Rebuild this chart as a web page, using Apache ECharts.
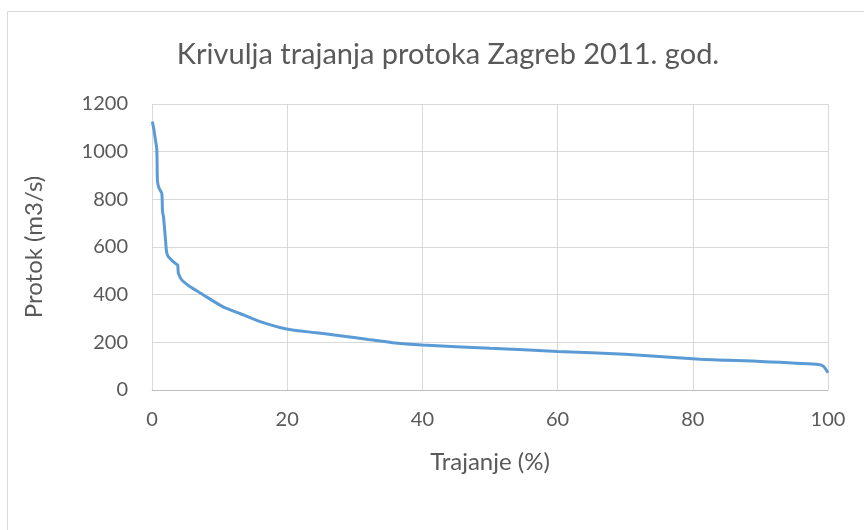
<!DOCTYPE html>
<html>
<head>
<meta charset="utf-8">
<script src="https://cdn.jsdelivr.net/npm/echarts@6/dist/echarts.min.js"></script>
<style>html,body{margin:0;padding:0;background:#fff}#c{width:864px;height:530px}</style>
</head>
<body>
<div id="c"></div>
<script>
const titleText = 'Krivulja trajanja protoka Zagreb 2011. god.';
const xName = 'Trajanje (%)';
const yName = 'Protok (m3/s)';
const duration = [0.05, 0.3, 0.45, 0.7, 0.75, 0.8, 1.0, 1.45, 1.55, 1.7, 2.0, 2.15, 2.4, 2.9, 3.5, 3.8, 3.85, 3.9, 4.4, 5.6, 7.6, 10.5, 13.0, 16.0, 19.9, 24.0, 27.8, 32.0, 36.0, 40.0, 50.0, 60.0, 70.0, 81.1, 90.0, 98.3, 99.3, 100.0];
const flow = [1126, 1090, 1060, 1014, 960, 880, 850, 825, 750, 727, 629, 580, 560, 545, 530, 524, 505, 490, 462, 434, 399, 349, 321, 287, 256, 241, 228, 212, 197, 189, 175, 162, 150, 129, 120, 108, 100, 72];
const xTicks = [0, 100, 20];
const yTicks = [0, 1200, 200];

const chart = echarts.init(document.getElementById('c'));
const font = 'Lato, "Open Sans", sans-serif';
chart.setOption({
  animation: false,
  graphic: [{type:'rect', shape:{x:7.5, y:11.5, width:870, height:540}, style:{fill:'none', stroke:'#d9d9d9', lineWidth:1}}],
  title: {text: titleText, left: 443, top: 35, textAlign: 'center',
    textStyle: {fontFamily: font, fontSize: 29, fontWeight: 'normal', color: '#595959'}},
  grid: {left: 152, top: 104, right: 36, bottom: 140, containLabel: false},
  xAxis: {type: 'value', min: xTicks[0], max: xTicks[1], interval: xTicks[2],
    name: xName, nameLocation: 'middle', nameGap: 60,
    nameTextStyle: {fontFamily: font, fontSize: 24, color: '#595959'},
    axisLine: {show: true, lineStyle: {color: '#bfbfbf', width: 1}},
    axisTick: {show: false},
    axisLabel: {fontFamily: font, fontSize: 20, color: '#595959', margin: 20},
    splitLine: {show: true, lineStyle: {color: '#d9d9d9', width: 1}}},
  yAxis: {type: 'value', min: yTicks[0], max: yTicks[1], interval: yTicks[2],
    name: yName, nameLocation: 'middle', nameGap: 106, nameRotate: 90,
    nameTextStyle: {fontFamily: font, fontSize: 24, color: '#595959'},
    axisLine: {show: false}, axisTick: {show: false},
    axisLabel: {fontFamily: font, fontSize: 20, color: '#595959', margin: 24, formatter: v => String(v)},
    splitLine: {show: true, lineStyle: {color: '#d9d9d9', width: 1}}},
  series: [{type: 'line', data: duration.map((d, i) => [d, flow[i]]),
    showSymbol: false, smooth: 0.2,
    lineStyle: {color: '#5b9bd5', width: 3}}]
});
</script>
</body>
</html>
